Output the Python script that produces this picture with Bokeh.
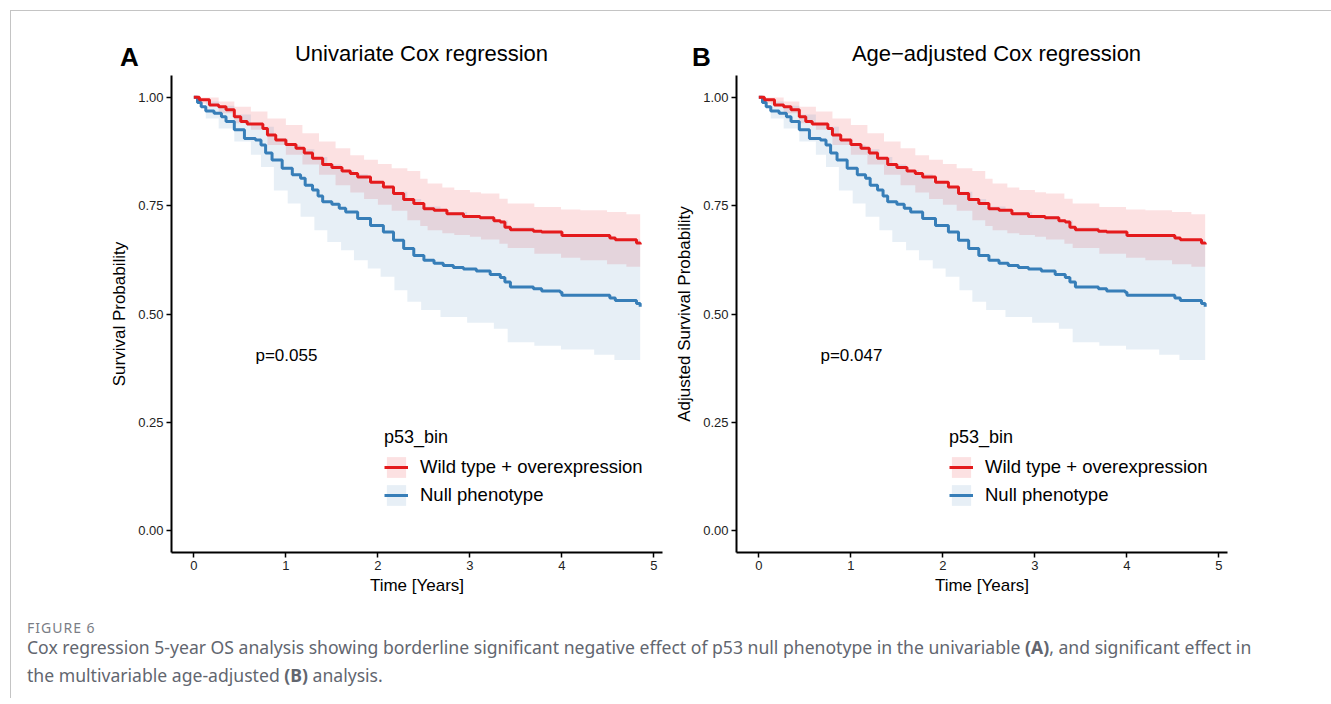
from bokeh.plotting import figure
from bokeh.models import Label, Legend, LegendItem, FixedTicker, Range1d, Div, PrintfTickFormatter
from bokeh.layouts import row, column
from bokeh.embed import file_html
from bokeh.resources import INLINE

# ---------------- data ----------------
groups = ["Wild type + overexpression", "Null phenotype"]
legend_title = "p53_bin"

red_t = [0, 0.06, 0.17, 0.27, 0.35, 0.44, 0.51, 0.58, 0.75, 0.80, 0.89, 1.00, 1.11, 1.20,
         1.29, 1.40, 1.50, 1.61, 1.70, 1.78, 1.92, 2.06, 2.17, 2.28, 2.39, 2.50, 2.61, 2.75,
         2.93, 3.11, 3.26, 3.33, 3.38, 3.44, 3.69, 3.78, 4.00, 4.52, 4.58, 4.81, 4.85]
red_s = [1.000, 0.994, 0.982, 0.978, 0.971, 0.955, 0.944, 0.938, 0.928, 0.913, 0.901, 0.891,
         0.882, 0.871, 0.859, 0.845, 0.838, 0.830, 0.824, 0.816, 0.804, 0.793, 0.778, 0.764,
         0.755, 0.743, 0.739, 0.731, 0.725, 0.722, 0.715, 0.712, 0.700, 0.694, 0.691, 0.689,
         0.681, 0.675, 0.671, 0.664, 0.660]

blue_t = [0, 0.04, 0.08, 0.13, 0.22, 0.30, 0.35, 0.44, 0.55, 0.67, 0.73, 0.78, 0.85, 0.96,
          1.07, 1.16, 1.21, 1.29, 1.35, 1.40, 1.50, 1.58, 1.65, 1.78, 1.92, 2.06, 2.17, 2.28,
          2.39, 2.50, 2.61, 2.71, 2.82, 2.93, 3.07, 3.22, 3.33, 3.38, 3.44, 3.69, 3.78, 3.98,
          4.00, 4.52, 4.58, 4.81, 4.85]
blue_s = [1.000, 0.988, 0.978, 0.968, 0.963, 0.955, 0.944, 0.925, 0.905, 0.901, 0.890, 0.871,
          0.855, 0.836, 0.821, 0.813, 0.797, 0.786, 0.772, 0.759, 0.753, 0.744, 0.735, 0.720,
          0.704, 0.689, 0.670, 0.651, 0.635, 0.624, 0.617, 0.612, 0.607, 0.604, 0.599, 0.591,
          0.584, 0.574, 0.562, 0.558, 0.553, 0.550, 0.543, 0.537, 0.531, 0.524, 0.517]

red_ci_t = [0, 0.06, 0.27, 0.44, 0.62, 0.80, 1.00, 1.18, 1.36, 1.54, 1.70, 1.85, 2.00, 2.15,
            2.32, 2.46, 2.54, 2.70, 2.83, 3.00, 3.12, 3.32, 3.41, 3.70, 3.99, 4.20, 4.49, 4.70,
            4.85]
red_hi = [1.000, 0.999, 0.990, 0.978, 0.967, 0.951, 0.936, 0.917, 0.898, 0.882, 0.866, 0.856,
          0.846, 0.836, 0.830, 0.812, 0.801, 0.792, 0.786, 0.781, 0.778, 0.766, 0.755, 0.747,
          0.741, 0.739, 0.735, 0.730, 0.727]
red_lo = [1.000, 0.985, 0.963, 0.940, 0.925, 0.890, 0.867, 0.845, 0.821, 0.797, 0.780, 0.765,
          0.752, 0.738, 0.716, 0.703, 0.693, 0.686, 0.682, 0.678, 0.672, 0.662, 0.652, 0.639,
          0.630, 0.624, 0.615, 0.609, 0.602]

blue_ci_t = [0, 0.13, 0.27, 0.44, 0.62, 0.73, 0.87, 1.02, 1.16, 1.31, 1.45, 1.60, 1.74, 1.89,
             2.03, 2.18, 2.32, 2.47, 2.68, 2.97, 3.26, 3.41, 3.70, 3.99, 4.35, 4.57, 4.85]
blue_hi = [1.000, 0.990, 0.980, 0.960, 0.940, 0.932, 0.905, 0.890, 0.880, 0.862, 0.845, 0.832,
           0.822, 0.807, 0.795, 0.782, 0.765, 0.748, 0.735, 0.726, 0.716, 0.700, 0.692, 0.684,
           0.678, 0.672, 0.665]
blue_lo = [1.000, 0.951, 0.928, 0.898, 0.867, 0.839, 0.785, 0.755, 0.724, 0.693, 0.666, 0.647,
           0.624, 0.605, 0.586, 0.555, 0.528, 0.509, 0.493, 0.480, 0.466, 0.435, 0.427, 0.418,
           0.406, 0.394, 0.376]

x_ticks = [0, 1, 2, 3, 4, 5]
y_ticks = [0.0, 0.25, 0.5, 0.75, 1.0]
panel_letters = ["A", "B"]
panel_titles = ["Univariate Cox regression", "Age\u2212adjusted Cox regression"]
y_titles = ["Survival Probability", "Adjusted Survival Probability"]
x_title = "Time [Years]"
p_values = ["p=0.055", "p=0.047"]
p_pos = (0.67, 0.404)

RED = "#E41A1C"
BLUE = "#377EB8"
FONT = "Liberation Sans"


def make_panel(i, width, border_left, border_right):
    p = figure(width=width, height=525, output_backend="svg", toolbar_location=None, title=None,
               x_range=Range1d(-0.2425, 5.0925), y_range=Range1d(-0.05, 1.05),
               min_border_left=border_left, min_border_right=border_right,
               min_border_top=0, min_border_bottom=48)
    p.background_fill_color = "white"
    p.border_fill_color = "white"
    p.outline_line_color = None
    p.xgrid.visible = False
    p.ygrid.visible = False

    rb = p.varea_step(x=red_ci_t, y1=red_lo, y2=red_hi, step_mode="after",
                      fill_color=RED, fill_alpha=0.13)
    bb = p.varea_step(x=blue_ci_t, y1=blue_lo, y2=blue_hi, step_mode="after",
                      fill_color=BLUE, fill_alpha=0.12)
    bl = p.step(blue_t, blue_s, mode="after", line_color=BLUE, line_width=3)
    rl = p.step(red_t, red_s, mode="after", line_color=RED, line_width=3)

    for ax in (p.xaxis, p.yaxis):
        ax.axis_line_color = "black"
        ax.axis_line_width = 2
        ax.major_tick_line_color = "black"
        ax.major_tick_line_width = 1.5
        ax.major_tick_out = 5
        ax.major_tick_in = 0
        ax.minor_tick_out = 0
        ax.minor_tick_in = 0
        ax.major_label_text_font = FONT
        ax.major_label_text_font_size = "13px"
        ax.major_label_text_color = "#222222"
        ax.major_label_standoff = 3
        ax.axis_label_text_font = FONT
        ax.axis_label_text_font_size = "17px"
        ax.axis_label_text_font_style = "normal"
        ax.axis_label_text_color = "black"
    p.xaxis.ticker = FixedTicker(ticks=x_ticks)
    p.yaxis.ticker = FixedTicker(ticks=y_ticks)
    p.yaxis.formatter = PrintfTickFormatter(format="%.2f")
    p.xaxis.axis_label = x_title
    p.yaxis.axis_label = y_titles[i]
    p.xaxis.axis_label_standoff = 3
    p.yaxis.axis_label_standoff = 6

    p.add_layout(Label(x=p_pos[0], y=p_pos[1], text=p_values[i], text_font=FONT,
                       text_font_size="17px", text_color="black", text_baseline="middle"))

    leg = Legend(items=[LegendItem(label=groups[0], renderers=[rb, rl]),
                        LegendItem(label=groups[1], renderers=[bb, bl])],
                 location=(213, 44), title=legend_title)
    leg.title_text_font = FONT
    leg.title_text_font_size = "18px"
    leg.title_text_font_style = "normal"
    leg.title_text_color = "black"
    leg.title_standoff = 6
    leg.label_text_font = FONT
    leg.label_text_font_size = "18.5px"
    leg.label_text_color = "black"
    leg.glyph_width = 24
    leg.glyph_height = 26
    leg.label_height = 26
    leg.label_standoff = 12
    leg.spacing = 2
    leg.padding = 0
    leg.margin = 0
    leg.border_line_color = None
    leg.background_fill_alpha = 0
    p.add_layout(leg)
    return p


def make_header(i, width, letter_left, title_width):
    html = (
        f'<div style="position:relative;width:{width}px;height:54px;font-family:\'{FONT}\',Arial,sans-serif;color:black;">'
        f'<div style="position:absolute;left:{letter_left}px;top:28px;font-size:26px;line-height:26px;'
        f'font-weight:bold;">{panel_letters[i]}</div>'
        f'<div style="position:absolute;left:0px;top:27px;width:{title_width}px;text-align:center;'
        f'font-size:22px;line-height:22px;white-space:nowrap;">{panel_titles[i]}</div>'
        '</div>')
    return Div(width=width, height=54, text=html)


pA = make_panel(0, 655, 160, 4)
pB = make_panel(1, 665, 70, 104)
hA = make_header(0, 655, 104, 811)
hB = make_header(1, 665, 11, 631)

caption = Div(width=1320, height=88, text=(
    '<div style="font-family:\'Noto Sans\',sans-serif;color:#62666f;padding-left:11px;padding-top:15px;">'
    '<div style="font-size:14px;line-height:16px;letter-spacing:1px;color:#7a7d85;">FIGURE 6</div>'
    '<div style="font-size:17.6px;line-height:28px;margin-top:-3px;white-space:nowrap;">'
    'Cox regression 5-year OS analysis showing borderline significant negative effect of p53 null '
    'phenotype in the univariable <b>(A)</b>, and significant effect in<br>'
    'the multivariable age-adjusted <b>(B)</b> analysis.</div></div>'))

layout = column(row(hA, hB), row(pA, pB), caption, margin=(10, 0, 0, 10),
                styles={"border-left": "1px solid #c4c4c4", "border-top": "1px solid #c4c4c4"})

open("out.html", "w").write(file_html(layout, INLINE))
